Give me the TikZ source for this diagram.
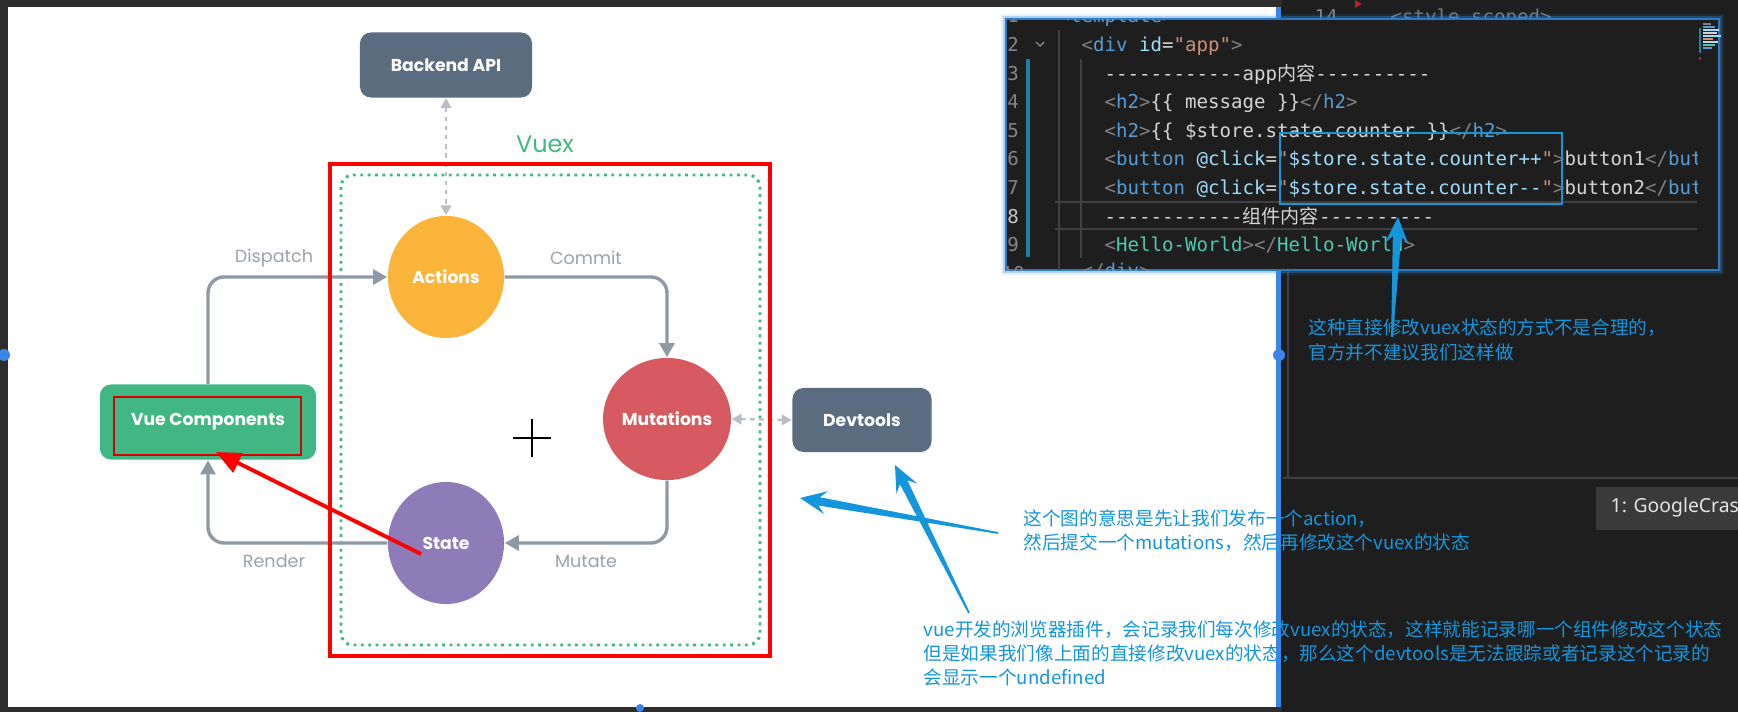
\documentclass[tikz,border=0pt]{standalone}
\usepackage{fontspec}
\setmainfont{Poppins}
\setmonofont{DejaVu Sans Mono}
\newfontfamily\cjk{Noto Sans CJK SC}
\newfontfamily\uifont{Noto Sans}
\usetikzlibrary{shapes.geometric,arrows.meta,calc}

\definecolor{vuegreen}{HTML}{41B883}
\definecolor{slatebox}{HTML}{5A6D80}
\definecolor{actorange}{HTML}{FBB53A}
\definecolor{mutred}{HTML}{D65A60}
\definecolor{statepurple}{HTML}{8E7CB8}
\definecolor{flowgray}{HTML}{8E99A4}
\definecolor{labelgray}{HTML}{9BA2A9}
\definecolor{dotgray}{HTML}{B9BFC5}
\definecolor{annoblue}{HTML}{1496DC}
\definecolor{selblue}{HTML}{3A86E8}
\definecolor{glowblue}{HTML}{2F8FEA}
\definecolor{editorbg}{HTML}{1E1E1E}
\definecolor{chrome}{HTML}{2D2D2D}
\definecolor{panelline}{HTML}{3F3F3F}
\definecolor{tabbg}{HTML}{3A3A3A}
\definecolor{tabtext}{HTML}{E4E4E4}
\definecolor{linenum}{HTML}{858585}
\definecolor{linecur}{HTML}{C6C6C6}
\definecolor{codeplain}{HTML}{D4D4D4}
\definecolor{codepunct}{HTML}{808080}
\definecolor{codename}{HTML}{569CD6}
\definecolor{codeattr}{HTML}{9CDCFE}
\definecolor{codestr}{HTML}{CE9178}
\definecolor{codecomp}{HTML}{4EC9B0}
\definecolor{codedim}{HTML}{6F7C89}
\definecolor{gitbar}{HTML}{1B7FA6}
\definecolor{guide}{HTML}{404040}
\definecolor{markred}{HTML}{B5202A}

\newcommand{\ctag}[1]{\textcolor{codepunct}{#1}}
\newcommand{\cname}[1]{\textcolor{codename}{#1}}
\newcommand{\cattr}[1]{\textcolor{codeattr}{#1}}
\newcommand{\cstr}[1]{\textcolor{codestr}{#1}}
\newcommand{\ccomp}[1]{\textcolor{codecomp}{#1}}

\newcommand{\callout}[2]{%
\coordinate (cwing) at ($(#2)!7.5pt!(#1)$);
\coordinate (cneck) at ($(#2)!5.5pt!(#1)$);
\fill[annoblue] ($(#1)!0.25pt!90:(#2)$) -- ($(cneck)!1.2pt!90:(#2)$) -- ($(cwing)!3.3pt!90:(#2)$) -- (#2) -- ($(cwing)!3.3pt!-90:(#2)$) -- ($(cneck)!1.2pt!-90:(#2)$) -- ($(#1)!0.25pt!-90:(#2)$) -- cycle;%
}

\begin{document}
\begin{tikzpicture}[
x=0.01cm,
y=-0.01cm,
bubble/.style={
	ellipse,
	minimum width=1.16cm,
	minimum height=1.22cm,
	inner sep=0pt,
	text=white,
	font=\bfseries\fontsize{4.9}{6}\selectfont
},
card/.style={
	rounded corners=0.11cm,
	minimum height=0.65cm,
	inner sep=0pt,
	text=white,
	font=\bfseries\fontsize{4.9}{6}\selectfont
},
flow/.style={
	draw=flowgray,
	line width=0.95pt,
	rounded corners=0.16cm,
	-{Triangle[length=4pt,width=4.2pt]}
},
flowlabel/.style={
	text=labelgray,
	font=\fontsize{5}{6}\selectfont
},
dotflow/.style={
	draw=dotgray,
	line width=0.65pt,
	dash pattern=on 1.3pt off 1.3pt,
	{Triangle[length=2.8pt,width=3pt]}-{Triangle[length=2.8pt,width=3pt]}
},
redarrow/.style={
	draw=red,
	line width=1.1pt,
	-{Triangle[length=7pt,width=6pt]}
},
code/.style={
	anchor=west,
	inner sep=0pt,
	text=codeplain,
	font=\ttfamily\fontsize{5.43}{6}\selectfont,
	text height=3.6pt,
	text depth=0pt
},
lnum/.style={
	code,
	anchor=center,
	text=linenum
},
anno/.style={
	anchor=west,
	inner sep=0pt,
	text=annoblue,
	font=\cjk\fontsize{5.3}{6.9}\selectfont,
	text height=4.2pt,
	text depth=0pt
}
]
\useasboundingbox (0,0) rectangle (1738,712);
\clip (0,0) rectangle (1738,712);

\fill[editorbg] (0,0) rectangle (1738,712);
\fill[chrome] (0,0) rectangle (1282,7);
\fill[chrome] (0,0) rectangle (8,712);
\fill[chrome] (0,707) rectangle (1282,712);
\fill[white] (8,7) rectangle (1276,707);
\fill[selblue] (1276,7) rectangle (1281,707);
\foreach \x/\y/\r in {4/355/6,1279/355/6,640/708/4}
\fill[selblue] (\x,\y) circle (\r);

\draw[panelline, line width=0.4pt] (1288,270) -- (1288,478);
\draw[panelline, line width=0.5pt] (1283,478) -- (1738,478);
\fill[tabbg] (1596,487) rectangle (1738,530);
\node[anchor=west, inner sep=0pt, text=tabtext, font=\uifont\fontsize{5.5}{6}\selectfont] (termtab) at (1610,507) {1: GoogleCrash};

\fill[markred] (1355,0) -- (1362,4) -- (1355,8) -- cycle;
\node[code, text=linenum] (ln14) at (1314,17) {14};
\node[code, text=codedim] (style14) at (1390,17) {<style scoped>};

\node[card, fill=slatebox, minimum width=1.72cm] (backend) at (446,65) {Backend API};
\node[card, fill=slatebox, minimum width=1.39cm, minimum height=0.64cm] (devtools) at (862,420) {Devtools};
\node[card, fill=vuegreen, minimum width=2.16cm, minimum height=0.75cm] (vuecomp) at (208,422) {Vue Components};
\draw[red!85!black, line width=0.7pt] (114,397) rectangle (301,455);

\foreach \x/\y/\col/\l in {446/277/actorange/Actions,667/419/mutred/Mutations,446/543/statepurple/State}
\node[bubble, fill=\col] (\l) at (\x,\y) {\l};

\draw[vuegreen, line width=0.85pt, dash pattern=on 0.8pt off 1.3pt, rounded corners=0.12cm] (341,175) rectangle (760,645);
\node[text=vuegreen, font=\fontsize{6.8}{8}\selectfont] (vuex) at (545,144) {Vuex};

\draw[flow] (vuecomp.north) |- (Actions.west);
\draw[flow] (Actions.east) -| (Mutations.north);
\draw[flow] (Mutations.south) |- (State.east);
\draw[flow] (State.west) -| (vuecomp.south);

\foreach \x/\y/\l in {274/258/Dispatch,586/258/Commit,586/561/Mutate,274/561/Render}
\node[flowlabel] (lbl\l) at (\x,\y) {\l};

\draw[dotflow] (backend.south) -- (Actions.north);
\draw[dotflow] (Mutations.east) -- (devtools.west);

\draw[red, line width=0.9pt] (330,164) rectangle (770,656);

\draw[line width=0.7pt] (513,438) -- (551,438) (532,419) -- (532,457);

\coordinate (redtail) at (421,554);
\coordinate (redtip) at (216,452);
\draw[redarrow] (redtail) -- (redtip);

\fill[glowblue, opacity=0.12] (1001,14) rectangle (1724,275);
\fill[glowblue, opacity=0.3] (1003,16) rectangle (1722,273);
\fill[editorbg] (1006,19) rectangle (1719,270);
\draw[glowblue!80!editorbg, line width=0.3pt] (1006,19) rectangle (1719,270);

\begin{scope}
\clip (1006,19) rectangle (1697,270);
\draw[panelline, line width=0.4pt] (1055,202) -- (1697,202) (1055,229) -- (1697,229);
\draw[guide, line width=0.4pt] (1059,30) -- (1059,270) (1081,59) -- (1081,258);
\fill[gitbar] (1026,59) rectangle (1030,257);
\draw[linenum, line width=0.4pt] (1036,42) -- (1040,46) -- (1044,42);
\foreach \i in {1,...,7,9,10}
\node[lnum] (ln\i) at (1013,{16.5+28.6*(\i-1)}) {\i};
\node[lnum, text=linecur] (ln8) at (1013,216.7) {8};

\node[code] (code1) at (1058,16.5) {\ctag{<}\cname{template}\ctag{>}};
\node[code] (code2) at (1081,45.1) {\ctag{<}\cname{div} \cattr{id}=\cstr{"app"}\ctag{>}};
\node[code] (code3) at (1104,73.7) {------------app{\cjk 内容}----------};
\node[code] (code4) at (1104,102.3) {\ctag{<}\cname{h2}\ctag{>}\{\{ message \}\}\ctag{</}\cname{h2}\ctag{>}};
\node[code] (code5) at (1104,130.9) {\ctag{<}\cname{h2}\ctag{>}\{\{ \$store.state.counter \}\}\ctag{</}\cname{h2}\ctag{>}};
\node[code] (code6) at (1104,159.5) {\ctag{<}\cname{button} \cattr{@click}=\cstr{"}\cattr{\$store.state.counter++}\cstr{"}\ctag{>}button1\ctag{</}\cname{button}\ctag{>}};
\node[code] (code7) at (1104,188.1) {\ctag{<}\cname{button} \cattr{@click}=\cstr{"}\cattr{\$store.state.counter--}\cstr{"}\ctag{>}button2\ctag{</}\cname{button}\ctag{>}};
\node[code] (code8) at (1104,216.7) {------------{\cjk 组件内容}----------};
\node[code] (code9) at (1104,245.3) {\ctag{<}\ccomp{Hello-World}\ctag{></}\ccomp{Hello-World}\ctag{>}};
\node[code] (code10) at (1081,271) {\ctag{</}\cname{div}\ctag{>}};
\end{scope}

\foreach \y/\w/\col in {24/8/codepunct,27/12/codename,30/16/codeattr,33/14/codeplain,36/18/codeattr,39/10/codestr,42/15/codeplain,45/12/codecomp,48/9/codename}
\draw[\col, line width=0.35pt] (1703,\y) -- ++(\w,0);
\fill[gitbar] (1699,28) rectangle (1701,53);
\fill[markred] (1699,57) rectangle (1701,60);

\draw[annoblue, line width=0.55pt] (1280,133) rectangle (1562,204);

\coordinate (tailA) at (998,533);
\coordinate (tipA) at (800,498);
\coordinate (tailB) at (969,613);
\coordinate (tipB) at (895,465);
\coordinate (tailC) at (1392,337);
\coordinate (tipC) at (1398,217);
\callout{tailA}{tipA}
\callout{tailB}{tipB}
\callout{tailC}{tipC}

\foreach \t [count=\i] in {这种直接修改vuex状态的方式不是合理的，,官方并不建议我们这样做}
\node[anno] (noteC\i) at (1308,{327+25*(\i-1)}) {\t};
\foreach \t [count=\i] in {这个图的意思是先让我们发布一个action，,然后提交一个mutations，然后再修改这个vuex的状态}
\node[anno] (noteA\i) at (1023,{518+24*(\i-1)}) {\t};
\foreach \t [count=\i] in {vue开发的浏览器插件，会记录我们每次修改vuex的状态，这样就能记录哪一个组件修改这个状态,但是如果我们像上面的直接修改vuex的状态，那么这个devtools是无法跟踪或者记录这个记录的,会显示一个undefined}
\node[anno] (noteB\i) at (923,{629+24*(\i-1)}) {\t};

\end{tikzpicture}
\end{document}
